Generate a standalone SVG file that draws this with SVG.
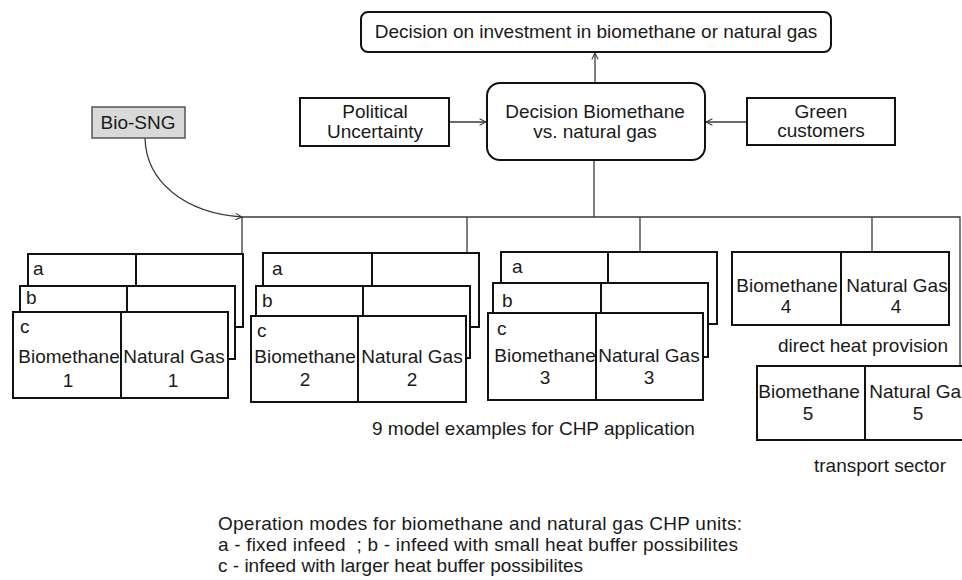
<svg xmlns="http://www.w3.org/2000/svg" width="962" height="580" viewBox="0 0 962 580">
<style>
text{font-family:"Liberation Sans",Arial,sans-serif;font-size:19px;fill:#1a1a1a}
.c{text-anchor:middle}
.pre{white-space:pre}
.box{fill:#fff;stroke:#111;stroke-width:2}
.div{stroke:#111;stroke-width:2}
.con{fill:none;stroke:#3a3a3a;stroke-width:1.3}
</style>
<defs>
<marker id="arr" viewBox="0 0 10 10" refX="9" refY="5" markerWidth="8" markerHeight="8" markerUnits="userSpaceOnUse" orient="auto">
<path d="M1,1 L9,5 L1,9" fill="none" stroke="#3a3a3a" stroke-width="1.3"/>
</marker>
</defs>
<rect width="962" height="580" fill="#fff"/>
<g id="connectors">
<line class="con" x1="595" y1="83" x2="595" y2="53" marker-end="url(#arr)"/>
<line class="con" x1="449" y1="122" x2="486" y2="122" marker-end="url(#arr)"/>
<line class="con" x1="747" y1="122" x2="706" y2="122" marker-end="url(#arr)"/>
<path class="con" d="M145,138 C146,182 185,213 242,217" marker-end="url(#arr)"/>
<line class="con" x1="594" y1="160" x2="594" y2="217"/>
<polyline class="con" points="242,254 242,217 960,217 960,366"/>
<line class="con" x1="467" y1="217" x2="467" y2="253"/>
<line class="con" x1="640" y1="217" x2="640" y2="252"/>
<line class="con" x1="872" y1="217" x2="872" y2="252"/>
</g>
<g id="decision-investment">
<rect class="box" x="361" y="12" width="470" height="40" rx="7"/>
<text class="c" x="596" y="38">Decision on investment in biomethane or natural gas</text>
</g>
<g id="decision-biomethane">
<rect class="box" x="487" y="83" width="218" height="77" rx="13"/>
<text class="c" x="595" y="118">Decision Biomethane</text>
<text class="c" x="595" y="138">vs. natural gas</text>
</g>
<g id="political">
<rect class="box" x="300" y="98" width="149" height="48"/>
<text class="c" x="375" y="118">Political</text>
<text class="c" x="375" y="138">Uncertainty</text>
</g>
<g id="green">
<rect class="box" x="747" y="98" width="148" height="47"/>
<text class="c" x="821" y="118">Green</text>
<text class="c" x="821" y="137">customers</text>
</g>
<g id="bio-sng">
<rect x="92" y="107" width="93" height="31" fill="#d9d9d9" stroke="#555" stroke-width="1.5"/>
<text class="c" x="138" y="129">Bio-SNG</text>
</g>
<g id="stack1">
<rect class="box" x="28" y="254" width="215" height="73"/><line class="div" x1="136" y1="254" x2="136" y2="327"/>
<text x="33" y="275">a</text>
<rect class="box" x="20" y="286" width="215" height="73"/><line class="div" x1="127" y1="286" x2="127" y2="359"/>
<text x="26" y="304">b</text>
<rect class="box" x="13" y="312" width="215" height="86"/><line class="div" x1="121" y1="312" x2="121" y2="398"/>
<text x="20" y="333">c</text>
<text class="c" x="69" y="363">Biomethane</text><text class="c" x="68" y="387">1</text>
<text class="c" x="174" y="363">Natural Gas</text><text class="c" x="173" y="387">1</text>
</g>
<g id="stack2">
<rect class="box" x="263" y="253" width="216" height="74"/><line class="div" x1="372" y1="253" x2="372" y2="327"/>
<text x="272" y="275">a</text>
<rect class="box" x="256" y="286" width="214" height="72"/><line class="div" x1="363" y1="286" x2="363" y2="358"/>
<text x="262" y="307">b</text>
<rect class="box" x="251" y="316" width="215" height="86"/><line class="div" x1="358" y1="316" x2="358" y2="402"/>
<text x="257" y="337">c</text>
<text class="c" x="305" y="363">Biomethane</text><text class="c" x="305" y="386">2</text>
<text class="c" x="412" y="363">Natural Gas</text><text class="c" x="412" y="386">2</text>
</g>
<g id="stack3">
<rect class="box" x="501" y="252" width="216" height="72"/><line class="div" x1="608" y1="252" x2="608" y2="324"/>
<text x="512" y="273">a</text>
<rect class="box" x="493" y="283" width="215" height="74"/><line class="div" x1="601" y1="283" x2="601" y2="357"/>
<text x="502" y="307">b</text>
<rect class="box" x="488" y="313" width="215" height="87"/><line class="div" x1="596" y1="313" x2="596" y2="400"/>
<text x="497" y="335">c</text>
<text class="c" x="545" y="362">Biomethane</text><text class="c" x="545" y="384">3</text>
<text class="c" x="649" y="362">Natural Gas</text><text class="c" x="649" y="384">3</text>
</g>
<g id="stack4">
<rect class="box" x="732" y="252" width="217" height="73"/><line class="div" x1="841" y1="252" x2="841" y2="325"/>
<text class="c" x="787" y="292">Biomethane</text><text class="c" x="786" y="313">4</text>
<text class="c" x="897" y="292">Natural Gas</text><text class="c" x="896" y="313">4</text>
</g>
<text class="c" x="863" y="352">direct heat provision</text>
<g id="stack5">
<rect class="box" x="757" y="366" width="218" height="74"/><line class="div" x1="865" y1="366" x2="865" y2="440"/>
<text class="c" x="809" y="398">Biomethane</text><text class="c" x="808" y="420">5</text>
<text class="c" x="920" y="398">Natural Gas</text><text class="c" x="918" y="420">5</text>
</g>
<text class="c" x="880" y="472">transport sector</text>
<text x="372" y="435">9 model examples for CHP application</text>
<text x="218" y="530" textLength="524" lengthAdjust="spacing">Operation modes for biomethane and natural gas CHP units:</text>
<text class="pre" x="218" y="551" textLength="520" lengthAdjust="spacing">a - fixed infeed  ; b - infeed with small heat buffer possibilites</text>
<text x="218" y="572">c - infeed with larger heat buffer possibilites</text>
</svg>
